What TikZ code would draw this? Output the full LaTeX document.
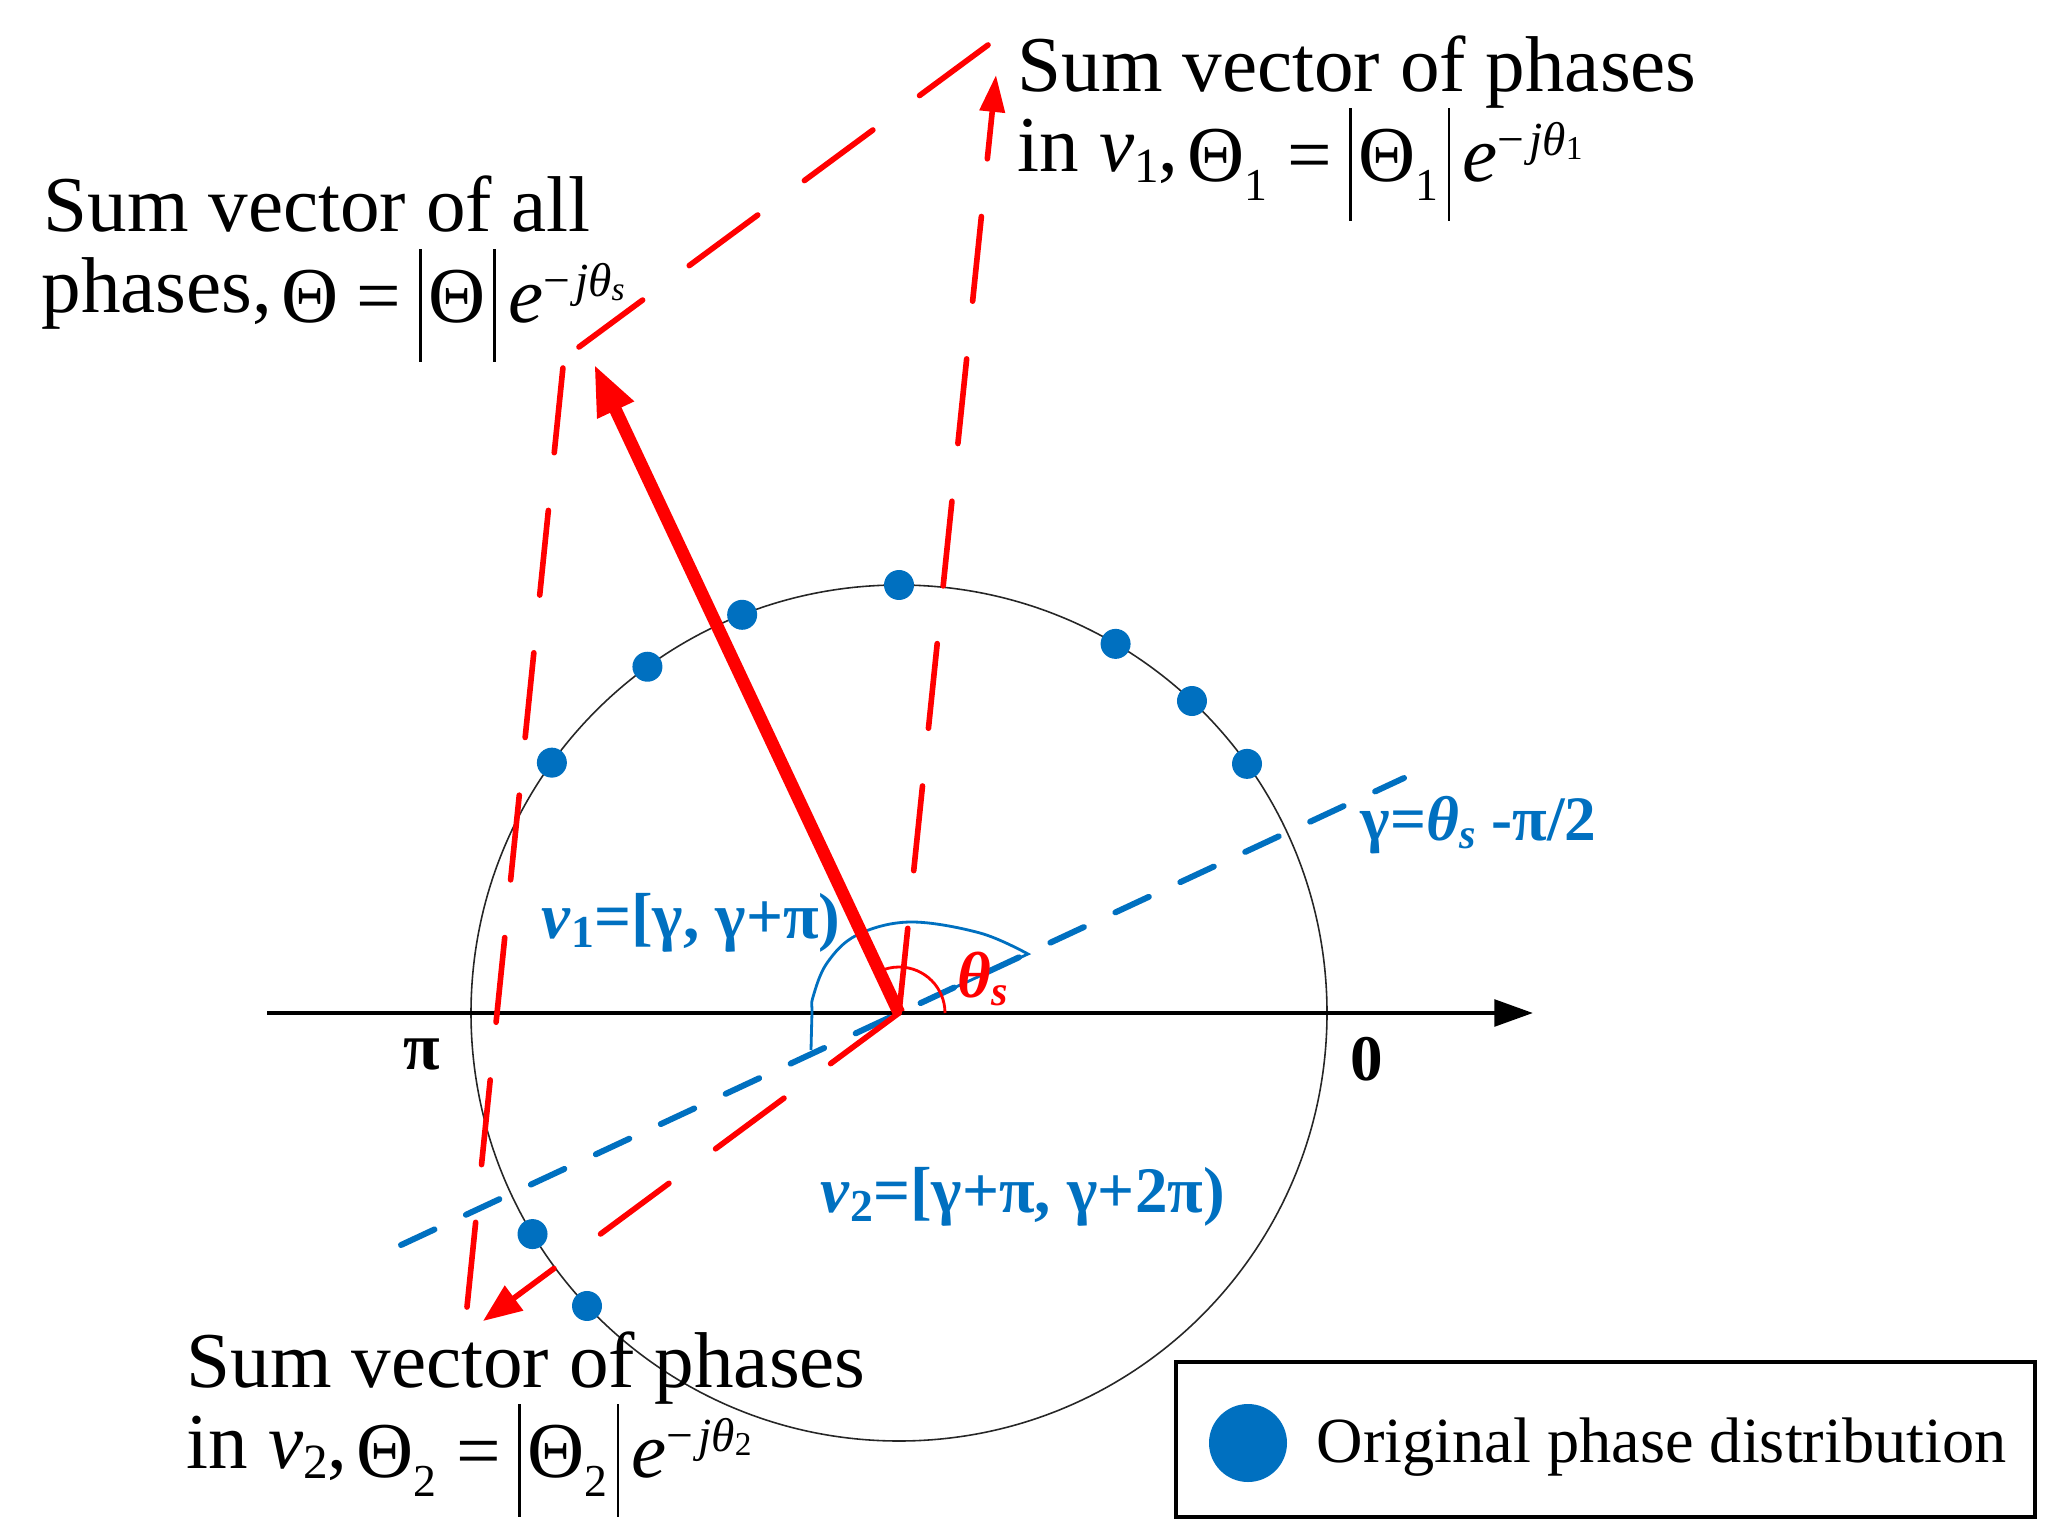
\documentclass[tikz,border=0pt]{standalone}
\usepackage{fontspec}
\setmainfont{Liberation Serif}
\usetikzlibrary{arrows.meta}
\definecolor{pblue}{HTML}{0070C0}
\newcommand{\fs}[1]{\fontsize{#1}{#1}\selectfont}
\newcommand{\vb}{\rule[-11.1pt]{0.8pt}{32.1pt}}
\newcommand{\mth}[1]{\raisebox{-2.8pt}{#1}}
\newcommand{\supx}[1]{\raisebox{7.5pt}{\fs{13.5}#1}}
\newcommand{\subx}[1]{\raisebox{-5.4pt}{\fs{13}#1}}
\newcommand{\ssub}[1]{\raisebox{-1.2pt}{\fs{9.5}#1}}
\tikzset{
  txt/.style={anchor=base west, inner sep=0pt, font=\fs{22.5}},
  blbl/.style={anchor=base west, inner sep=0pt, text=pblue, font=\fs{18.5}\bfseries},
  rdash/.style={red, line width=1.6pt, line cap=round, dash pattern=on 24.2pt off 16.5pt},
  bdash/.style={pblue, line width=1.7pt, line cap=round, dash pattern=on 10.5pt off 9.87pt},
  dot/.style={fill=pblue}
}
\begin{document}
\begin{tikzpicture}[x=0.01cm,y=-0.01cm]
\useasboundingbox (0,0) rectangle (2046,1534);
\coordinate (O) at (899,1013);
\coordinate (axL) at (267,1013);
\coordinate (axR) at (1533,1013);
\coordinate (T1) at (996,75);
\coordinate (T2) at (483,1321);
\coordinate (TS) at (594,364);
\coordinate (P1a) at (988,45);
\coordinate (P1b) at (579,347);
\coordinate (P2a) at (467,1307);
\coordinate (P2b) at (563,367);
\coordinate (B1) at (401,1245);
\coordinate (B2) at (1404,778);

% circle
\draw[black!85, line width=0.45pt] (O) circle[radius=428];
% axis
\draw[line width=1.3pt, -{Triangle[length=11pt,width=7.5pt]}] (axL) -- (axR);
% blue dashed line
\draw[bdash] (B1) -- (B2);
% blue angle arc
\draw[pblue, line width=0.8pt] (923,1002) -- plot[smooth, tension=0.6] coordinates {(1028,954) (980,933) (910,922) (857,935) (827,963) (813,997) (812,1013) (811,1050)};
% red angle arc
\draw[red, line width=0.8pt] (945,1013) arc[start angle=0, end angle=-115.2, radius=46];
% red dashed vectors
\draw[rdash, -{Triangle[length=10.5pt,width=7pt]}] (O) -- (T1);
\draw[rdash, -{Triangle[length=11pt,width=8.5pt]}] (O) -- (T2);
\draw[rdash] (P1a) -- (P1b);
\draw[rdash] (P2a) -- (P2b);
% sum vector
\draw[red, line width=3.6pt, -{Triangle[length=14.5pt,width=10.5pt]}] (O) -- (TS);
% dots
\foreach \a in {90,111.5,126,144.2,59.6,46.8,35.6,211.1,223.2}
  \fill[dot, shift={(O)}] ({428*cos(\a)},{-428*sin(\a)}) circle[radius=15];

% axis labels
\node[anchor=base, inner sep=0pt, font=\fs{19}\bfseries] (lpi) at (422,1069) {π};
\node[anchor=base west, inner sep=0pt, font=\fs{18.5}\bfseries] (lzero) at (1350,1080) {0};

% blue labels
\node[blbl] (v1lbl) at (541,938) {\textit{v}\raisebox{-2.8pt}{\fs{13}1}=[γ, γ+π)};
\node[blbl] (v2lbl) at (820,1212) {\textit{v}\raisebox{-2.8pt}{\fs{13}2}=[γ+π, γ+2π)};
\node[blbl, font=\fs{18}\bfseries] (glbl) at (1360,840) {γ=\textit{θ}\raisebox{-2.5pt}{\fs{12}\textit{s}} -π/2};
\node[anchor=base west, inner sep=0pt, text=red, font=\fs{18.5}\bfseries] (thlbl) at (957,997) {\textit{θ}\raisebox{-2.3pt}{\fs{12}\textit{s}}};

% black labels
\node[txt] (tl1) at (43,232) {Sum vector of all};
\node[txt] (tl2) at (41,313) {phases,\hspace{2.6pt}\mth{Θ\hspace{5.2pt}=\hspace{5pt}\vb\hspace{1.9pt}Θ\hspace{2.1pt}\vb\hspace{3.4pt}\textit{e}\supx{−\hspace{1.5pt}\textit{jθ}\ssub{\textit{s}}}}};
\node[txt] (tr1) at (1017,92) {Sum vector of phases};
\node[txt] (tr2) at (1017,172) {in \textit{v}\raisebox{-3pt}{\fs{14}1},\hspace{2.6pt}\mth{Θ\subx{1}\hspace{5.5pt}=\hspace{5pt}\vb\hspace{1.9pt}Θ\subx{1}\hspace{2.5pt}\vb\hspace{3.4pt}\textit{e}\supx{−\hspace{1.5pt}\textit{jθ}\ssub{1}}}};
\node[txt] (bl1) at (186,1387) {Sum vector of phases};
\node[txt] (bl2) at (186,1468) {in \textit{v}\raisebox{-3pt}{\fs{14}2},\hspace{2.6pt}\mth{Θ\subx{2}\hspace{5.5pt}=\hspace{5pt}\vb\hspace{1.9pt}Θ\subx{2}\hspace{2.5pt}\vb\hspace{3.4pt}\textit{e}\supx{−\hspace{1.5pt}\textit{jθ}\ssub{2}}}};

% legend
\draw[line width=1pt] (1176,1362) rectangle (2035,1517);
\fill[dot] (1248,1443) circle[radius=39];
\node[anchor=base west, inner sep=0pt, font=\fs{18.3}] (legtxt) at (1316,1462) {Original phase distribution};
\end{tikzpicture}
\end{document}
